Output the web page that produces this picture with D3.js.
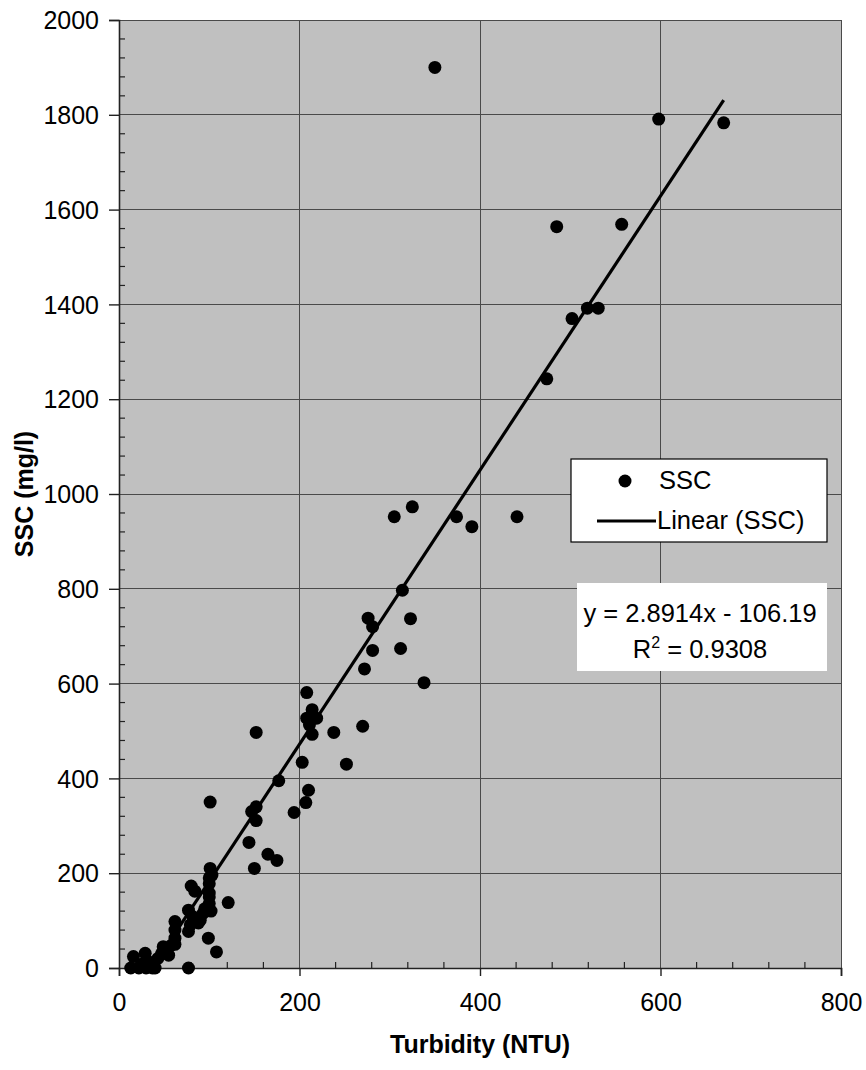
<!DOCTYPE html>
<html><head><meta charset="utf-8">
<script src="https://cdn.jsdelivr.net/npm/d3@7"></script>
<style>
html,body{margin:0;padding:0;background:#fff;}
text{font-family:"Liberation Sans",Arial,sans-serif;}
</style></head>
<body>
<svg id="c" width="866" height="1070"></svg>
<script>
// Data
const turbidity = [350,598,670,485,557,502,519,531,474,305,325,374,391,441,314,276,323,281,281,312,272,338,208,214,208,219,211,214,238,270,152,203,252,177,210,207,194,101,152,147,152,144,165,175,150,101,103,121,108,99,77,80,84,100,100,100,102,77,82,90,93,79,77,62,62,62,58,49,55,43,38,29,16,13,22,30,37,62,88,95,100,100,47,34,25,40];
const ssc       = [1900,1791,1783,1564,1569,1370,1392,1392,1243,952,973,952,931,952,797,738,737,720,670,674,631,602,581,545,527,527,513,493,497,510,497,434,430,395,375,349,328,350,340,330,311,265,240,227,210,210,196,138,34,63,0,173,162,178,158,136,120,122,108,101,115,91,77,98,80,63,48,45,27,20,6,31,24,0,0,0,0,50,95,125,150,190,30,12,8,0];
const slope = 2.8914, intercept = -106.19;
const xTicks = [0,200,400,600,800];
const yTicks = [0,200,400,600,800,1000,1200,1400,1600,1800,2000];
const xTitle = "Turbidity (NTU)";
const yTitle = "SSC (mg/l)";
const legendLabels = ["SSC","Linear (SSC)"];
const eqLine1 = "y = 2.8914x - 106.19";
const r2Value = "0.9308";

const svg = d3.select("#c");
const L = 119, R = 841, T = 20, B = 968;
const x = d3.scaleLinear().domain([0,800]).range([L,R]);
const y = d3.scaleLinear().domain([0,2000]).range([B,T]);

// plot area
svg.append("rect").attr("x",L).attr("y",T).attr("width",R-L).attr("height",B-T).attr("fill","#c0c0c0");

// gridlines
const g = svg.append("g");
g.selectAll(".gx").data(xTicks.slice(1)).enter().append("line")
  .attr("x1",d=>x(d)).attr("x2",d=>x(d)).attr("y1",T).attr("y2",B)
  .attr("stroke","#4a4a4a").attr("stroke-width",1).attr("shape-rendering","crispEdges");
g.selectAll(".gy").data(yTicks.slice(1)).enter().append("line")
  .attr("x1",L).attr("x2",R).attr("y1",d=>y(d)).attr("y2",d=>y(d))
  .attr("stroke","#4a4a4a").attr("stroke-width",1).attr("shape-rendering","crispEdges");

// minor ticks (inside)
const minorX = d3.range(40,800,40).filter(v=>v%200!==0);
const minorY = d3.range(40,2000,40).filter(v=>v%200!==0);
svg.append("g").selectAll("line").data(minorX).enter().append("line")
  .attr("x1",d=>x(d)).attr("x2",d=>x(d)).attr("y1",B).attr("y2",B-6)
  .attr("stroke","#222").attr("stroke-width",1.2);
svg.append("g").selectAll("line").data(minorY).enter().append("line")
  .attr("x1",L).attr("x2",L+6).attr("y1",d=>y(d)).attr("y2",d=>y(d))
  .attr("stroke","#222").attr("stroke-width",1.2);

// axes
const xAxis = d3.axisBottom(x).tickValues(xTicks).tickSize(8).tickPadding(17).tickFormat(d3.format("d"));
const yAxis = d3.axisLeft(y).tickValues(yTicks).tickSize(10).tickPadding(10).tickFormat(d3.format("d"));
const gx = svg.append("g").attr("transform",`translate(0,${B})`).call(xAxis);
const gy = svg.append("g").attr("transform",`translate(${L},0)`).call(yAxis);
[gx,gy].forEach(a=>{
  a.select(".domain").attr("stroke","#222").attr("stroke-width",1.6);
  a.selectAll(".tick line").attr("stroke","#222").attr("stroke-width",1.4);
  a.selectAll("text").attr("font-size",25).attr("fill","#000").attr("font-family","Liberation Sans, Arial, sans-serif");
});
gy.selectAll("text").attr("dy","0.35em");

// trendline clipped to plot
svg.append("clipPath").attr("id","clip").append("rect").attr("x",L).attr("y",T).attr("width",R-L).attr("height",B-T);
const xMin = d3.min(turbidity), xMax = d3.max(turbidity);
svg.append("line").attr("clip-path","url(#clip)")
  .attr("x1",x(xMin)).attr("y1",y(slope*xMin+intercept))
  .attr("x2",x(xMax)).attr("y2",y(slope*xMax+intercept))
  .attr("stroke","#000").attr("stroke-width",3.2);

// points
svg.append("g").selectAll("circle").data(turbidity.map((t,i)=>[t,ssc[i]])).enter().append("circle")
  .attr("cx",d=>x(d[0])).attr("cy",d=>y(d[1])).attr("r",6.5).attr("fill","#000");

// legend
const lg = svg.append("g");
lg.append("rect").attr("x",571).attr("y",459).attr("width",256).attr("height",83)
  .attr("fill","#fff").attr("stroke","#000").attr("stroke-width",1.2);
lg.append("circle").attr("cx",625).attr("cy",481).attr("r",6.5).attr("fill","#000");
lg.append("text").attr("x",659).attr("y",489).attr("font-size",25.5).text(legendLabels[0]);
lg.append("line").attr("x1",597).attr("x2",656).attr("y1",521).attr("y2",521).attr("stroke","#000").attr("stroke-width",3);
lg.append("text").attr("x",657).attr("y",529).attr("font-size",25.5).text(legendLabels[1]);

// equation box
const eq = svg.append("g");
eq.append("rect").attr("x",577).attr("y",583).attr("width",250).attr("height",88).attr("fill","#fff");
eq.append("text").attr("x",700).attr("y",622).attr("text-anchor","middle").attr("font-size",25.5).text(eqLine1);
const t2 = eq.append("text").attr("x",700).attr("y",658).attr("text-anchor","middle").attr("font-size",25.5);
t2.append("tspan").text("R");
t2.append("tspan").attr("font-size",16).attr("dy",-10).text("2");
t2.append("tspan").attr("dy",10).text(" = " + r2Value);

// axis titles
svg.append("text").attr("x",(L+R)/2).attr("y",1053).attr("text-anchor","middle")
  .attr("font-size",25).attr("font-weight","bold").text(xTitle);
svg.append("text").attr("transform",`translate(33,${(T+B)/2}) rotate(-90)`).attr("text-anchor","middle")
  .attr("font-size",25).attr("font-weight","bold").text(yTitle);
</script>
</body></html>
